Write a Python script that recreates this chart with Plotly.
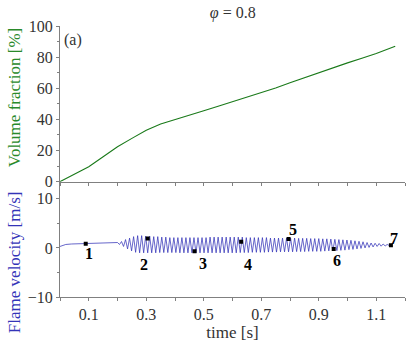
import plotly.graph_objects as go

# volume fraction (top panel)
vf_t = [0.0, 0.05, 0.1, 0.15, 0.2, 0.25, 0.3, 0.35, 0.4, 0.45, 0.5, 0.55, 0.6,
        0.65, 0.7, 0.75, 0.8, 0.85, 0.9, 0.95, 1.0, 1.05, 1.1, 1.166]
vf_v = [0.0, 4.7, 9.6, 16.0, 22.4, 27.8, 33.0, 37.0, 40.0, 42.7, 45.5, 48.4, 51.3,
        54.1, 57.0, 60.2, 63.5, 66.8, 70.0, 73.2, 76.3, 79.3, 82.3, 87.0]

vel_t = [0.0, 0.01, 0.02, 0.04, 0.08, 0.12, 0.16, 0.19,
         0.200, 0.207, 0.214, 0.221, 0.228, 0.235, 0.242, 0.249, 0.256, 0.263,
         0.270, 0.277, 0.284, 0.291, 0.298, 0.305, 0.312, 0.319, 0.326, 0.333,
         0.340, 0.347, 0.354, 0.361, 0.368, 0.375, 0.382, 0.389, 0.396, 0.403,
         0.410, 0.417, 0.424, 0.431, 0.438, 0.445, 0.452, 0.459, 0.466, 0.473,
         0.480, 0.487, 0.494, 0.501, 0.508, 0.515, 0.522, 0.529, 0.536, 0.543,
         0.550, 0.557, 0.564, 0.571, 0.578, 0.585, 0.592, 0.599, 0.606, 0.613,
         0.620, 0.627, 0.634, 0.641, 0.648, 0.655, 0.662, 0.669, 0.676, 0.683,
         0.690, 0.697, 0.704, 0.711, 0.718, 0.725, 0.732, 0.739, 0.746, 0.753,
         0.760, 0.767, 0.774, 0.781, 0.788, 0.795, 0.802, 0.809, 0.816, 0.823,
         0.830, 0.837, 0.844, 0.851, 0.858, 0.865, 0.872, 0.879, 0.886, 0.893,
         0.900, 0.907, 0.914, 0.921, 0.928, 0.935, 0.942, 0.949, 0.956, 0.963,
         0.970, 0.977, 0.984, 0.991, 0.998, 1.005, 1.012, 1.019, 1.026, 1.033,
         1.040, 1.047, 1.054, 1.061, 1.068, 1.075, 1.082, 1.089, 1.096, 1.103,
         1.110, 1.117, 1.124, 1.131, 1.138, 1.145]
vel_v = [0.3, 0.55, 0.7, 0.8, 0.87, 0.95, 1.0, 1.0,
         1.1, 0.7, 1.3, 0.3, 1.7, -0.2, 2.0, -0.6, 2.3, -0.9,
         2.5, -1.0, 2.5, -1.0, 2.4, -1.0, 2.4, -1.0, 2.3, -1.0,
         2.3, -0.95, 2.2, -0.95, 2.2, -0.95, 2.1, -0.95, 2.1, -0.95,
         2.1, -1.0, 2.1, -1.0, 2.1, -1.0, 2.1, -1.0, 2.1, -1.0,
         2.1, -1.0, 2.1, -1.0, 2.1, -1.0, 2.2, -1.0, 2.2, -1.0,
         2.2, -1.0, 2.2, -1.0, 2.2, -1.0, 2.2, -1.0, 2.2, -1.0,
         2.2, -0.95, 2.2, -0.95, 2.1, -0.95, 2.1, -0.9, 2.1, -0.9,
         2.1, -0.9, 2.1, -0.9, 2.1, -0.85, 2.0, -0.85, 2.0, -0.85,
         2.0, -0.8, 2.0, -0.8, 2.0, -0.8, 2.0, -0.8, 2.0, -0.75,
         1.95, -0.75, 1.95, -0.75, 1.95, -0.7, 1.9, -0.7, 1.9, -0.7,
         1.9, -0.7, 1.85, -0.65, 1.85, -0.6, 1.8, -0.6, 1.75, -0.55,
         1.7, -0.5, 1.65, -0.45, 1.6, -0.35, 1.55, -0.3, 1.45, -0.2,
         1.35, -0.1, 1.25, 0.0, 1.1, 0.1, 1.0, 0.2, 0.95, 0.3,
         0.9, 0.35, 0.8, 0.4, 0.7, 0.5]

# numbered instants
pt_t = [0.0895, 0.305, 0.468, 0.630, 0.795, 0.952, 1.151]
pt_v = [0.87, 1.9, -0.69, 1.28, 1.83, -0.2, 0.53]
pt_lbl = ["1", "2", "3", "4", "5", "6", "7"]
lbl_shift = [(3, -10), (-4, -26), (8, -12), (7, -23), (4, 9), (3, -12), (3, 7)]

xtick_vals = [0.1, 0.3, 0.5, 0.7, 0.9, 1.1]
xtick_text = ["0.1", "0.3", "0.5", "0.7", "0.9", "1.1"]

serif = "Liberation Serif"
green = "#1a7a1a"
blue = "#3434b8"
axcol = "#808080"
split = 0.4256

fig = go.Figure()
fig.add_trace(go.Scatter(x=vf_t, y=vf_v, mode="lines", line=dict(color=green, width=1.1),
                         xaxis="x", yaxis="y", showlegend=False))
fig.add_trace(go.Scatter(x=vel_t, y=vel_v, mode="lines", line=dict(color=blue, width=0.75),
                         xaxis="x2", yaxis="y2", showlegend=False))
fig.add_trace(go.Scatter(x=pt_t, y=pt_v, mode="markers",
                         marker=dict(symbol="square", size=4, color="black"),
                         xaxis="x2", yaxis="y2", showlegend=False))

annots = []
for t, v, s, (dx, dy) in zip(pt_t, pt_v, pt_lbl, lbl_shift):
    annots.append(dict(x=t, y=v, xref="x2", yref="y2", text="<b>" + s + "</b>",
                       showarrow=False, xshift=dx, yshift=dy,
                       font=dict(family=serif, size=16, color="black")))
annots.append(dict(x=0.006, y=0.948, xref="paper", yref="paper", text="(a)", showarrow=False,
                   xanchor="left", yanchor="middle",
                   font=dict(family=serif, size=16, color="#333")))
annots.append(dict(x=-0.133, y=0.734, xref="paper", yref="paper",
                   text="Volume fraction [%]", textangle=-90, showarrow=False,
                   xanchor="center", yanchor="middle",
                   font=dict(family=serif, size=17, color="#2a8a2a")))
annots.append(dict(x=-0.133, y=0.129, xref="paper", yref="paper",
                   text="Flame velocity [m/s]", textangle=-90, showarrow=False,
                   xanchor="center", yanchor="middle",
                   font=dict(family=serif, size=17, color=blue)))

ax_common = dict(showline=True, linecolor=axcol, linewidth=1, ticks="outside",
                 tickcolor=axcol, ticklen=3, showgrid=False, zeroline=False,
                 tickfont=dict(family=serif, size=16, color="#333"))

fig.update_layout(
    width=415, height=346,
    margin=dict(l=60, r=10, t=26, b=49),
    plot_bgcolor="white", paper_bgcolor="white",
    title=dict(text="<i>φ</i> = 0.8", x=0.561, xanchor="center", y=0.965, yanchor="middle",
               font=dict(family=serif, size=16, color="#333")),
    xaxis=dict(domain=[0, 1], anchor="y", range=[0, 1.2], dtick=0.1, tick0=0,
               showticklabels=False, **ax_common),
    yaxis=dict(domain=[split, 1], anchor="x", range=[0, 100], tickvals=[0, 20, 40, 60, 80, 100],
               minor=dict(dtick=10, ticklen=2, tickcolor=axcol, ticks="outside"), **ax_common),
    xaxis2=dict(domain=[0, 1], anchor="y2", range=[0, 1.2], tickvals=xtick_vals,
                ticktext=xtick_text,
                minor=dict(dtick=0.1, tick0=0, ticklen=3, tickcolor=axcol, ticks="outside"),
                title=dict(text="time [s]", font=dict(family=serif, size=17, color="#333"),
                           standoff=2),
                **ax_common),
    yaxis2=dict(domain=[0, split], anchor="x2", range=[-10, 13.5], tickvals=[-10, 0, 10],
                minor=dict(dtick=5, ticklen=2, tickcolor=axcol, ticks="outside"), **ax_common),
    annotations=annots,
)

# the page body has a default 8px margin; drop it so the figure sits at the corner
fig.write_html("out.html", config={"displayModeBar": False},
               post_script="document.body.style.margin='0px';")
